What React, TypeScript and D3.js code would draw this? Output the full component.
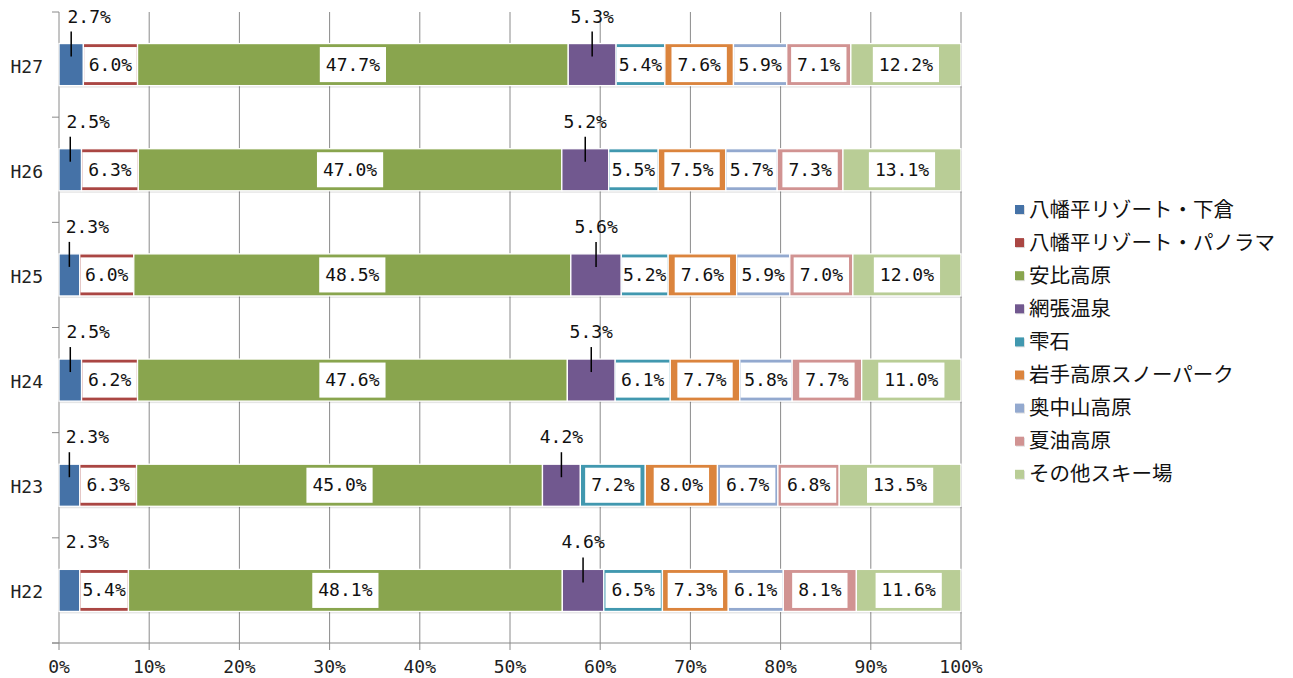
import React from "react";
import * as d3 from "d3";

// years, bottom to top
const categories = ["H22", "H23", "H24", "H25", "H26", "H27"];

const seriesNames = [
  "八幡平リゾート・下倉",
  "八幡平リゾート・パノラマ",
  "安比高原",
  "網張温泉",
  "雫石",
  "岩手高原スノーパーク",
  "奥中山高原",
  "夏油高原",
  "その他スキー場",
];

const colors = [
  "#4572A7",
  "#AA4643",
  "#89A54E",
  "#71588F",
  "#4198AF",
  "#DB843D",
  "#93A9CF",
  "#D19392",
  "#B9CD96",
];

// share (%) per year, same order as categories
const shimokura = [2.3, 2.3, 2.5, 2.3, 2.5, 2.7];
const panorama = [5.4, 6.3, 6.2, 6.0, 6.3, 6.0];
const appi = [48.1, 45.0, 47.6, 48.5, 47.0, 47.7];
const amihari = [4.6, 4.2, 5.3, 5.6, 5.2, 5.3];
const shizukuishi = [6.5, 7.2, 6.1, 5.2, 5.5, 5.4];
const iwatekogen = [7.3, 8.0, 7.7, 7.6, 7.5, 7.6];
const okunakayama = [6.1, 6.7, 5.8, 5.9, 5.7, 5.9];
const geto = [8.1, 6.8, 7.7, 7.0, 7.3, 7.1];
const others = [11.6, 13.5, 11.0, 12.0, 13.1, 12.2];

const xTicks = [0, 0.1, 0.2, 0.3, 0.4, 0.5, 0.6, 0.7, 0.8, 0.9, 1];

const allSeries = [
  shimokura,
  panorama,
  appi,
  amihari,
  shizukuishi,
  iwatekogen,
  okunakayama,
  geto,
  others,
];

const W = 1293;
const H = 678;
const plot = { left: 59, right: 961, top: 12, bottom: 643 };
const numFont = "'DejaVu Sans Mono', 'Liberation Mono', monospace";
const jpFont = "'Noto Sans CJK JP', 'Noto Sans', sans-serif";

export default function App() {
  const rows = categories.map((c, i) => {
    const row: Record<string, any> = { year: c };
    seriesNames.forEach((s, k) => (row[s] = allSeries[k][i]));
    return row;
  });

  const stacked = d3
    .stack<any>()
    .keys(seriesNames)
    .offset(d3.stackOffsetExpand)(rows);

  const x = d3.scaleLinear().domain([0, 1]).range([plot.left, plot.right]);
  const y = d3
    .scaleBand()
    .domain([...categories].reverse())
    .range([plot.top, plot.bottom])
    .paddingInner(0.6)
    .paddingOuter(0.3);
  const bh = y.bandwidth();
  const charW = 10.84;

  const bandEdges = [...categories.map((c) => (y(c) as number) - (y.step() * 0.6) / 2), plot.bottom];

  return (
    <svg
      width={W}
      height={H}
      style={{ position: "absolute", left: 0, top: 0, background: "#fff" }}
    >
      {/* grid */}
      {xTicks.map((t) => (
        <line
          key={"g" + t}
          x1={x(t)}
          x2={x(t)}
          y1={plot.top}
          y2={plot.bottom + 7}
          stroke="#8a8a8a"
          strokeWidth={1}
        />
      ))}
      <line x1={plot.left - 7} x2={plot.right} y1={plot.bottom} y2={plot.bottom} stroke="#8a8a8a" />
      {bandEdges.map((e, i) => (
        <line key={"yt" + i} x1={plot.left - 7} x2={plot.left} y1={e} y2={e} stroke="#8a8a8a" />
      ))}
      {xTicks.map((t) => (
        <text
          key={"xl" + t}
          x={x(t)}
          y={668}
          textAnchor="middle"
          dominantBaseline="middle"
          fontFamily={numFont}
          fontSize={18}
          fill="#222"
        >
          {Math.round(t * 100) + "%"}
        </text>
      ))}
      {categories.map((c) => (
        <text
          key={"yl" + c}
          x={43}
          y={(y(c) as number) + bh / 2 + 3}
          textAnchor="end"
          dominantBaseline="middle"
          fontFamily={numFont}
          fontSize={18}
          fill="#222"
        >
          {c}
        </text>
      ))}

      {/* bar shadows */}
      {categories.map((c) => (
        <rect
          key={"sh" + c}
          x={x(0) + 1}
          y={(y(c) as number) + 2}
          width={x(1) - x(0)}
          height={bh}
          fill="#000"
          opacity={0.1}
        />
      ))}

      {/* segments */}
      {stacked.map((s, k) =>
        s.map((d, i) => (
          <rect
            key={"r" + k + "-" + i}
            x={x(d[0])}
            y={y(categories[i]) as number}
            width={x(d[1]) - x(d[0])}
            height={bh}
            fill={colors[k]}
            stroke="#fff"
            strokeWidth={1.3}
          />
        ))
      )}

      {/* labels */}
      {stacked.map((s, k) =>
        s.map((d, i) => {
          const v = allSeries[k][i];
          const label = v.toFixed(1) + "%";
          const x0 = x(d[0]);
          const x1 = x(d[1]);
          const cx = (x0 + x1) / 2;
          const top = y(categories[i]) as number;
          const cy = top + bh / 2;
          if (k === 0 || k === 3) {
            const lx = k === 0 ? cx + 18 : cx;
            const showLine = !(k === 0 && categories[i] === "H22");
            return (
              <g key={"l" + k + "-" + i}>
                {showLine && (
                  <line x1={cx} x2={cx} y1={top - 12} y2={top + 13} stroke="#000" strokeWidth={1.5} />
                )}
                <text
                  x={lx}
                  y={top - 26}
                  textAnchor="middle"
                  dominantBaseline="middle"
                  fontFamily={numFont}
                  fontSize={18}
                  fill="#111"
                >
                  {label}
                </text>
              </g>
            );
          }
          const bw = Math.min(label.length * charW + 12, x1 - x0 - 1.5);
          return (
            <g key={"l" + k + "-" + i}>
              <rect x={cx - bw / 2} y={top + 3.5} width={bw} height={bh - 7} fill="#fff" />
              <text
                x={cx}
                y={cy + 1}
                textAnchor="middle"
                dominantBaseline="middle"
                fontFamily={numFont}
                fontSize={18}
                fill="#111"
              >
                {label}
              </text>
            </g>
          );
        })
      )}

      {/* legend */}
      {seriesNames.map((n, k) => {
        const ly = 210 + k * 33.1;
        return (
          <g key={"lg" + k}>
            <rect x={1016} y={ly - 4} width={9} height={9} fill="#000" opacity={0.12} />
            <rect x={1015} y={ly - 5} width={9} height={9} fill={colors[k]} />
            <text
              x={1029}
              y={ly + 1}
              dominantBaseline="middle"
              fontFamily={jpFont}
              fontSize={20.5}
              fill="#111"
            >
              {n}
            </text>
          </g>
        );
      })}
    </svg>
  );
}
